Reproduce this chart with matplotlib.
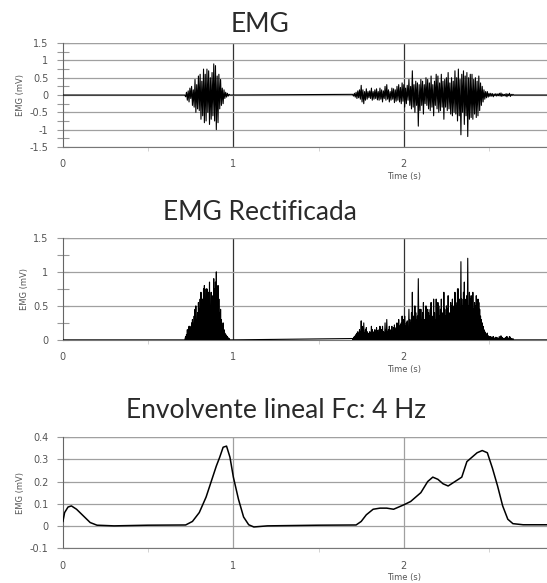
import matplotlib
matplotlib.use('Agg')
import matplotlib.pyplot as plt
import numpy as np
from matplotlib.ticker import MultipleLocator

# raw EMG bursts (mV), sampled every 5 ms from the burst start
DT = 0.005
BURST1_START = 0.715
burst1 = [
    0.0, -0.05, 0.08, -0.15, 0.12, -0.2, 0.2, -0.1, 0.25, -0.3,
    0.15, -0.35, 0.45, -0.5, 0.3, -0.4, 0.55, -0.45, 0.6, -0.7,
    0.4, -0.6, 0.75, -0.8, 0.6, -0.75, 0.75, -0.5, 0.7, -0.85,
    0.5, -0.7, 0.65, -0.6, 0.9, -0.75, 0.85, -1.0, 0.55, -0.8,
    0.6, -0.4, 0.45, -0.3, 0.2, -0.25, 0.15, -0.1, 0.08, -0.06,
    0.05, -0.03, 0.02, 0.0,
]
BURST2_START = 1.70
burst2 = [
    0.02, -0.03, 0.05, -0.06, 0.08, -0.1, 0.12, -0.08, 0.15, -0.12,
    0.28, -0.2, 0.15, -0.25, 0.1, -0.15, 0.18, -0.12, 0.1, -0.08,
    0.12, -0.1, 0.2, -0.15, 0.1, -0.12, 0.15, -0.1, 0.18, -0.14,
    0.1, -0.15, 0.2, -0.12, 0.15, -0.2, 0.12, -0.1, 0.25, -0.15,
    0.3, -0.12, 0.15, -0.2, 0.1, -0.15, 0.2, -0.12, 0.18, -0.22,
    0.15, -0.18, 0.25, -0.15, 0.3, -0.2, 0.22, -0.25, 0.35, -0.18,
    0.3, -0.35, 0.2, -0.25, 0.28, -0.15, 0.45, -0.3, 0.25, -0.4,
    0.7, -0.35, 0.3, -0.5, 0.4, -0.3, 0.35, -0.9, 0.3, -0.45,
    0.45, -0.3, 0.4, -0.55, 0.3, -0.25, 0.5, -0.3, 0.45, -0.4,
    0.35, -0.45, 0.55, -0.35, 0.3, -0.6, 0.4, -0.3, 0.6, -0.4,
    0.55, -0.5, 0.35, -0.45, 0.6, -0.35, 0.4, -0.7, 0.45, -0.35,
    0.5, -0.45, 0.65, -0.4, 0.35, -0.55, 0.5, -0.6, 0.4, -0.5,
    0.7, -0.55, 0.5, -0.75, 0.75, -0.6, 0.45, -1.15, 0.6, -0.5,
    0.7, -0.85, 0.55, -0.6, 0.65, -1.2, 0.5, -0.7, 0.6, -0.65,
    0.6, -0.7, 0.45, -0.55, 0.5, -0.65, 0.4, -0.6, 0.55, -0.45,
    0.35, -0.3, 0.25, -0.2, 0.15, -0.12, 0.1, -0.08, 0.1, -0.06,
    0.05, -0.04, 0.05, -0.03, 0.04, -0.05, 0.03, -0.02, 0.04, -0.03,
    0.03, -0.02, 0.05, -0.03, 0.06, -0.04, 0.03, -0.02, 0.02, -0.03,
    0.04, -0.05, 0.03, -0.02, 0.05, -0.04, 0.02, -0.01, 0.02, 0.0,
]
T_END = 2.84

# linear envelope (mV)
env_t = [0.0, 0.01, 0.03, 0.05, 0.08, 0.12, 0.16, 0.2, 0.3, 0.5, 0.72,
         0.76, 0.8, 0.84, 0.87, 0.9, 0.92, 0.94, 0.96, 0.98, 1.0, 1.03,
         1.06, 1.09, 1.12, 1.2, 1.5, 1.72, 1.75, 1.78, 1.82, 1.86, 1.9,
         1.94, 1.97, 2.0, 2.04, 2.07, 2.1, 2.14, 2.17, 2.2, 2.23, 2.26,
         2.3, 2.34, 2.37, 2.4, 2.43, 2.46, 2.49, 2.52, 2.55, 2.58, 2.61,
         2.64, 2.7, 2.84]
env_v = [0.02, 0.06, 0.085, 0.09, 0.075, 0.045, 0.015, 0.003, 0.0, 0.003, 0.004,
         0.02, 0.06, 0.13, 0.2, 0.27, 0.31, 0.355, 0.36, 0.31, 0.22, 0.12,
         0.04, 0.005, -0.005, 0.0, 0.003, 0.004, 0.02, 0.05, 0.075, 0.08, 0.08,
         0.075, 0.085, 0.095, 0.11, 0.13, 0.15, 0.2, 0.22, 0.21, 0.19, 0.18,
         0.2, 0.22, 0.29, 0.31, 0.33, 0.34, 0.33, 0.26, 0.18, 0.09, 0.03,
         0.01, 0.005, 0.005]

GRID = '#a0a0a0'
LABEL = '#555555'


def raw_signal():
    t1 = BURST1_START + DT * np.arange(len(burst1))
    t2 = BURST2_START + DT * np.arange(len(burst2))
    t = np.concatenate(([0.0], t1, t2, [T_END]))
    v = np.concatenate(([0.0], burst1, burst2, [0.0]))
    return t, v


def rectify(t, v):
    # full-wave rectification, keeping the zero crossings of the raw trace
    out_t, out_v = [t[0]], [abs(v[0])]
    for i in range(1, len(t)):
        if v[i - 1] * v[i] < 0:
            frac = v[i - 1] / (v[i - 1] - v[i])
            out_t.append(t[i - 1] + frac * (t[i] - t[i - 1]))
            out_v.append(0.0)
        out_t.append(t[i])
        out_v.append(abs(v[i]))
    return np.array(out_t), np.array(out_v)


def style_axes(ax, ylim, major, minor, vline_color):
    ax.set_xlim(0, T_END)
    ax.set_ylim(*ylim)
    ax.yaxis.set_major_locator(MultipleLocator(major))
    if minor:
        ax.yaxis.set_minor_locator(MultipleLocator(minor))
    ax.xaxis.set_major_locator(MultipleLocator(1))
    ax.xaxis.set_minor_locator(MultipleLocator(0.5))
    ax.grid(axis='y', which='major', color=GRID, lw=0.9)
    for x in (1, 2):
        ax.axvline(x, color=vline_color, lw=0.9, zorder=1)
    for side in ('top', 'right'):
        ax.spines[side].set_visible(False)
    ax.axhline(ylim[1], color=GRID, lw=0.9)
    ax.spines['left'].set_color('#666666')
    ax.spines['bottom'].set_color('#777777')
    ax.tick_params(axis='y', which='both', direction='inout', length=9,
                   width=0.8, color='#999999', labelsize=7,
                   labelcolor=LABEL, pad=6)
    ax.tick_params(axis='x', which='major', length=0, labelsize=7,
                   labelcolor=LABEL, pad=9)
    ax.tick_params(axis='x', which='minor', direction='out', length=3,
                   color='#cccccc', width=0.6)
    ax.set_ylabel('EMG (mV)', fontsize=6, color=LABEL, labelpad=3)
    ax.annotate('Time (s)', xy=(2.0, 0), xycoords=('data', 'axes fraction'),
                xytext=(0, -21), textcoords='offset points',
                ha='center', va='center', fontsize=6, color=LABEL)
    ax.yaxis.set_major_formatter(plt.FuncFormatter(lambda v, p: f'{v:g}'))


def main():
    fig = plt.figure(figsize=(5.47, 5.83), dpi=100)
    title_font = dict(fontsize=19, color='#2a2a2a', family='Lato',
                      ha='center', va='center')

    t, v = raw_signal()
    rt, rv = rectify(t, v)

    ax1 = fig.add_axes([0.115, 0.748, 0.885, 0.178])
    style_axes(ax1, (-1.5, 1.5), 0.5, 0.25, '#333333')
    ax1.plot(t, v, color='black', lw=0.8, zorder=3)
    fig.text(0.475, 1 - 25 / 583, 'EMG', **title_font)

    ax2 = fig.add_axes([0.115, 0.417, 0.885, 0.175])
    style_axes(ax2, (0, 1.5), 0.5, 0.25, '#333333')
    ax2.plot(rt, rv, color='black', lw=0.8, zorder=3)
    fig.text(0.475, 1 - 213 / 583, 'EMG Rectificada', **title_font)

    ax3 = fig.add_axes([0.115, 0.060, 0.885, 0.190])
    style_axes(ax3, (-0.1, 0.4), 0.1, None, GRID)
    ax3.plot(env_t, env_v, color='black', lw=1.1, zorder=3)
    fig.text(0.505, 1 - 410 / 583, 'Envolvente lineal Fc: 4 Hz', **title_font)

    fig.savefig('out.png', dpi=100)
    plt.close(fig)


if __name__ == '__main__':
    main()
